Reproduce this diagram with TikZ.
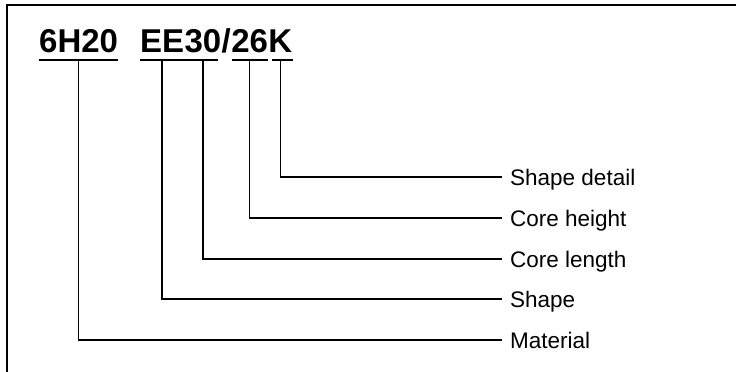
\documentclass[tikz,border=0pt]{standalone}
\usepackage{fontspec}
\setmainfont{Liberation Sans}
\usetikzlibrary{positioning}

\begin{document}
\begin{tikzpicture}[x=1pt, y=-1pt,
		code/.style={font=\bfseries\fontsize{33}{40}\selectfont, inner sep=0pt},
		lbl/.style={font=\fontsize{22.5}{27}\selectfont, anchor=west, inner xsep=8pt, inner ysep=0pt, text height=16pt, text depth=0pt},
		uline/.style={line width=2pt},
		conn/.style={line width=1.6pt}]
			\useasboundingbox (0,0) rectangle (736,372);
			\draw[line width=2pt] (7,372) -- (7,4.5) -- (736,4.5);
			
			\node[code, anchor=base west] (mat) at (39,52){6H20};
			\node[code, anchor=base west] (shp) at (140,52){EE};
			\node[code, base right=0pt of shp] (len){30};
			\node[code, base right=0pt of len] (sl){/};
			\node[code, base right=0pt of sl] (hgt){26};
			\node[code, base right=0pt of hgt] (det){K};
			
			\draw[uline] ([yshift=-8pt]mat.base west) -- ([yshift=-8pt]mat.base east);
			\draw[uline] ([yshift=-8pt]shp.base west) -- ([yshift=-8pt, xshift=-4pt]len.base east);
			\draw[uline] ([yshift=-8pt, xshift=1pt]hgt.base west) -- ([yshift=-8pt]hgt.base east);
			\draw[uline] ([yshift=-8pt, xshift=4pt]det.base west) -- ([yshift=-8pt, xshift=1pt]det.base east);
			
			\node[lbl] (ldet) at (502,177){Shape detail};
			\node[lbl] (lhgt) at (502,218){Core height};
			\node[lbl] (llen) at (502,259){Core length};
			\node[lbl] (lshp) at (502,299){Shape};
			\node[lbl] (lmat) at (502,340){Material};
			
			\draw[conn] ([yshift=-8pt]det.base) |- (ldet.west);
			\draw[conn] ([yshift=-8pt]hgt.base) |- (lhgt.west);
			\draw[conn] ([yshift=-8pt]len.base) |- (llen.west);
			\draw[conn] ([yshift=-8pt]shp.base) |- (lshp.west);
			\draw[conn] ([yshift=-8pt]mat.base) |- (lmat.west);
			
		\end{tikzpicture}
\end{document}
